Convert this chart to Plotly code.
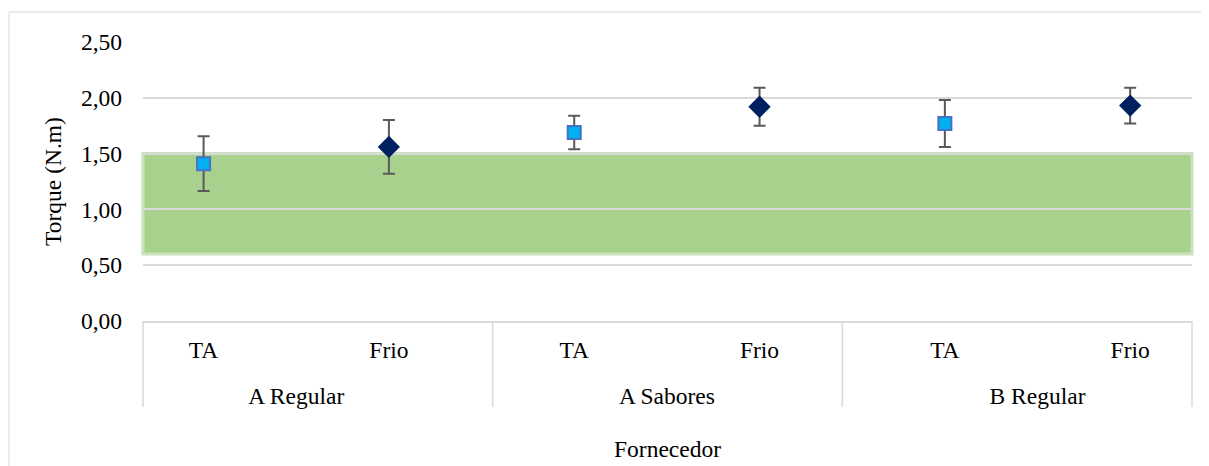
import plotly.graph_objects as go

# Data
suppliers = ["A Regular", "A Regular", "A Sabores", "A Sabores", "B Regular", "B Regular"]
conditions = ["TA", "Frio", "TA", "Frio", "TA", "Frio"]
torque_mean = [1.41, 1.56, 1.69, 1.92, 1.77, 1.93]
torque_err = [0.245, 0.24, 0.15, 0.17, 0.21, 0.16]
spec_low = 0.60
spec_high = 1.50
y_ticks = [0, 0.5, 1.0, 1.5, 2.0, 2.5]

symbols = ["square" if c == "TA" else "diamond" for c in conditions]
fill_colors = ["#00B0F0" if c == "TA" else "#002060" for c in conditions]
line_colors = ["#4472C4" if c == "TA" else "#002060" for c in conditions]
sizes = [13 if c == "TA" else 15 for c in conditions]

# inner labels get a small invisible extra line to widen the gap to the group labels
inner_labels = [c + "<br><span style='font-size:1px'> </span>" for c in conditions]

FONT = "Liberation Serif, Times New Roman, serif"
FS = 23.5
GRID = "#D9D9D9"

W, H = 1201, 458
L, R, T, B = 135, 17, 34, 145
pw, ph = W - L - R, H - T - B

fig = go.Figure()
fig.add_trace(go.Scatter(
    x=[suppliers, inner_labels],
    y=torque_mean,
    mode="markers",
    marker=dict(symbol=symbols, color=fill_colors, size=sizes, opacity=1,
                line=dict(color=line_colors, width=2)),
    error_y=dict(type="data", array=torque_err, visible=True,
                 color="#595959", thickness=2, width=6),
    showlegend=False,
))

# specification band
fig.add_shape(type="rect", xref="paper", x0=0, x1=1, yref="y",
              y0=spec_low, y1=spec_high, layer="between",
              fillcolor="#A9D18E", line=dict(color="#C9E2B9", width=3))

# group dividers (including the outer edges)
n_groups = len(dict.fromkeys(suppliers))
for i in range(n_groups + 1):
    fig.add_shape(type="line", xref="paper", yref="paper",
                  x0=i / n_groups, x1=i / n_groups,
                  y0=0, y1=-86 / ph,
                  line=dict(color=GRID, width=1.5))

# chart border
fig.add_shape(type="rect", xref="paper", yref="paper",
              x0=(1 - L) / pw, x1=(W + 10 - L) / pw,
              y0=-(B + 20) / ph, y1=1 + (T - 4) / ph,
              line=dict(color=GRID, width=1), fillcolor="rgba(0,0,0,0)",
              layer="below")

fig.update_layout(
    width=W, height=H,
    margin=dict(l=L, r=R, t=T, b=B, autoexpand=False),
    paper_bgcolor="white", plot_bgcolor="white",
    separators=", ",
    font=dict(family=FONT, size=FS, color="#000000"),
    xaxis=dict(
        type="multicategory", automargin=False,
        showgrid=False, showline=True, linecolor=GRID, linewidth=1.5,
        showdividers=False,
        ticks="", tickfont=dict(family=FONT, size=FS),
        ticklabelstandoff=7,
        title=dict(text="Fornecedor", font=dict(family=FONT, size=FS), standoff=32),
    ),
    yaxis=dict(
        range=[0, 2.5], tickvals=y_ticks, tickformat=".2f", automargin=False,
        showgrid=True, gridcolor=GRID, gridwidth=1.5,
        zeroline=False, showline=False, ticks="",
        ticklabelstandoff=20,
        tickfont=dict(family=FONT, size=FS),
        title=dict(text="Torque (N.m)", font=dict(family=FONT, size=FS), standoff=12),
    ),
)

fig.write_html("out.html")
